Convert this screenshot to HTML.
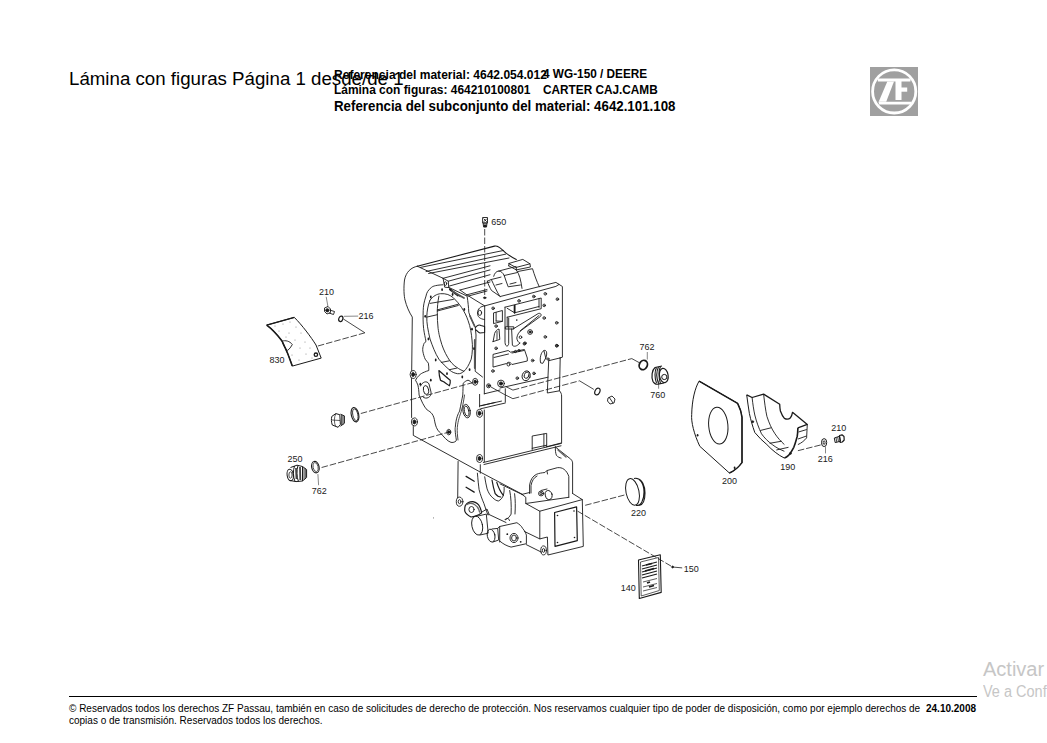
<!DOCTYPE html>
<html><head><meta charset="utf-8">
<style>
html,body{margin:0;padding:0;background:#fff;width:1047px;height:743px;overflow:hidden;position:relative;font-family:"Liberation Sans",sans-serif;color:#000}
.t{position:absolute;white-space:nowrap;line-height:1}
#title{left:69px;top:69.8px;font-size:18.7px}
.b{font-weight:bold;font-size:11.8px;transform:scaleY(1.09);transform-origin:0 0}
#l1a{left:334px;top:68.2px;font-size:12.05px}
#l1b{left:543px;top:68.2px}
#l2a{left:334px;top:84.2px;font-size:11.95px}
#l2b{left:543px;top:84.2px}
#l3{left:334px;top:99.2px;font-size:13.3px}
#foot1{left:69px;top:703.5px;font-size:10px}
#foot2{left:69px;top:716px;font-size:10px}
#date{left:926px;top:703.5px;font-size:10px;font-weight:bold}
#rule{position:absolute;left:69px;top:696px;width:908px;height:1px;background:#000}
#act1{left:983px;top:659.2px;font-size:20px;color:#c6c6c6}
#act2{left:983px;top:684px;font-size:14.5px;color:#c6c6c6;transform:scaleY(1.12);transform-origin:0 0}
svg{position:absolute;left:0;top:0}
</style></head><body>
<div class="t" id="title">Lámina con figuras Página 1 desde/de 1</div>
<div class="t b" id="l1a">Referencia del material: 4642.054.012</div>
<div class="t b" id="l1b">4 WG-150 / DEERE</div>
<div class="t b" id="l2a">Lámina con figuras: 464210100801</div>
<div class="t b" id="l2b">CARTER CAJ.CAMB</div>
<div class="t b" id="l3">Referencia del subconjunto del material: 4642.101.108</div>
<div id="rule"></div>
<div class="t" id="foot1">© Reservados todos los derechos ZF Passau, también en caso de solicitudes de derecho de protección. Nos reservamos cualquier tipo de poder de disposición, como por ejemplo derechos de</div>
<div class="t" id="foot2">copias o de transmisión. Reservados todos los derechos.</div>
<div class="t" id="date">24.10.2008</div>
<div class="t" id="act1">Activar</div>
<div class="t" id="act2">Ve a Conf</div>
<svg width="1047" height="743" viewBox="0 0 1047 743">
<!-- ZF logo -->
<rect x="870" y="67" width="48" height="49" fill="#a0a0a0"/>
<circle cx="894.2" cy="91.4" r="21.6" fill="none" stroke="#fff" stroke-width="2.8"/>
<polygon points="877.6,78.6 910.8,78.6 910.4,81.4 877.9,81.4" fill="#fff"/>
<polygon points="887.3,81.4 894,81.4 886.2,101.7 878.7,101.7" fill="#fff"/>
<polygon points="878.4,101.7 911.6,101.7 911,104.6 879.2,104.6" fill="#fff"/>
<rect x="895.5" y="81" width="6" height="19" fill="#fff"/>
<rect x="901" y="87.5" width="6.2" height="4.2" fill="#fff"/>

<g fill="none" stroke="#1a1a1a" stroke-width="0.9" stroke-linejoin="round" stroke-linecap="round">
<!-- ============ UPPER HOUSING ============ -->
<!-- left outer rounded back + vertical left edge + bottom diagonal -->
<path d="M417.3,266.2 C411,267.5 406,272 404.5,280 C403.5,288 404,296 405,300 C406.5,306 409,312 412.3,317.1 L411.7,370.5 M411.5,378.5 L411.6,417.5 M413.3,426.5 L413.3,435.4 L481.1,472.5 L522.6,494.5"/>
<!-- back top edge + slope -->
<path d="M417.3,266.2 L494.5,246.1 C496,245.8 497,246 497.8,246.5 C501,248 503,250.5 505.8,252.9 C509,255.5 513,257.8 516.3,259.4" stroke-width="1.1"/>
<!-- ribs on top -->
<path d="M420.5,267.4 L503.4,250.5 M426.1,271.5 L505.8,254.1 M428.6,273.5 L509,258"/>
<!-- left face edge to rib block -->
<path d="M417.3,266.2 L443.1,278.3"/>
<!-- rib block -->
<path d="M443.1,278.3 L490,265.8 M443.1,278.3 L448.3,281.2 L490,269.9 M448.3,281.2 L448.7,287.6 L444.7,287.2 L443.1,278.3 M449.5,286 L490,274.7"/>
<ellipse cx="445.5" cy="283.6" rx="1.2" ry="1.8"/>
<path d="M460,290 L490,282 M466.5,294.9 L487,289.5 M460,290 L468.1,295.7 M448.7,287.6 L460,296.5"/>
<path d="M450,289.5 L458,295.5" stroke-width="2"/>
<!-- top left flange lines -->
<!-- hump -->
<path d="M509.1,263.4 L522.8,259.4 L530,263.8 L516.3,267.4 Z M508.7,265.8 L516.3,269.9 L530.4,267 L530,263.8 M509.1,263.4 L508.7,265.8 M516.3,267.4 L516.3,269.9"/>
<path d="M517.9,271.5 L532.5,268.7 C534.5,275 536.5,281 539.3,286.8 M516.3,269.9 C519.5,274 521,281 522,288.4"/>
<path d="M493.7,276.3 C494.5,273 496.5,271.2 498.6,271.1 C501,271 503,273 504.2,275.5 C505.5,279 506.5,283 508.2,286.8 L520.4,285 M498.6,271.1 L516,266.5 M504.2,275.5 L517.5,272.5"/>
<path d="M487.3,281.2 L491.3,279.5 L501,277.1 M487.3,281.2 C488,284 490,288 491.5,290.5 L500.2,296.5 M491.3,279.5 C494,285 496.5,291 499.4,295.7 M496,285 L502,283.5 M510,284 L516,282.5"/>
<!-- plate top face -->
<path d="M468.6,296 L484.7,305.9 L555.9,286.4 L559.1,284.4 L555.9,282.4 L500.2,296.5 M468.6,296 L487,291"/>
<ellipse cx="484.7" cy="297.8" rx="1.2" ry="0.8" fill="#1a1a1a"/>
<!-- ear bolt -->
<path d="M484.7,306 C480.5,306 477.5,309 477.5,313 C477.5,317 480,319 484.5,319.5"/>
<ellipse cx="479.8" cy="312.8" rx="1.8" ry="2.6"/>
<!-- plate front face edges -->
<path d="M484.7,305.9 L484.3,393.8 M559.1,284.4 L562.4,286.5 L562.4,357.2 L559.8,358 M500,388 L548,377.2 M484.3,393.8 L500,390"/>
<!-- step block right -->
<path d="M548.7,360.7 L560.2,357.9 M548.7,360.7 L547.3,393 L559.5,390.8 L560.2,357.9 M559.5,390.8 C561,392.5 561.6,394 561.6,396 L561.6,442.9 L546,446.9"/>
<!-- flange web (hatched edge) -->
<path d="M448.6,287.3 L467.1,296.1 C468,302 468.5,307 468.8,312.3 C470.5,318 472.5,322 475.2,326.8 L476,335 L475.2,371.3 L482.5,377"/>
<path d="M452,291 L464,298 M470,316 L474.5,326 M474.8,340 L474.8,368" stroke-width="1.8" stroke="#555"/>
<!-- bore & flange -->
<path d="M442.9,284.8 C437,285 433,286 431.6,287.3 C428,290 426.5,293 426,296.1 C424,302 423.3,306 423.2,310.7 C423,317 423,323 423.6,328.4 C424.3,334 425.2,337 426,341.5 C424.5,342.5 423.8,343.5 423.6,344.7 C422.8,347 422.6,349 422.8,351.1 C423.5,355 424.3,357 425.2,359.2 C426.5,361 427.5,362 428.4,363.2 C428.8,366 428.9,368 428.8,370.5 C427,371 425.7,371.5 424.4,372.1 C422,373 420.5,374 419.1,375.4 C417.5,377 416.3,378.5 415.5,380.2 C416.5,382 417.3,383.5 417.9,385 C418.5,388 418.9,391 419.1,395 C421,400 424,407 427.3,410.1 C431,412 433.8,414.4 434.8,421.9 C436,428 438,431 440.2,432.7 C444,437 447,441 451,442.4 C454,443 456.5,441 456.4,440.2 C455,432 455,428 455.3,427.3 C456,418 458,414 459.6,411.1 C461,404 462,399 462.8,395 C463,390 463.1,386 463.1,383.4 C465,381.5 466.5,380.5 468,380.2 C469.5,380.5 471,381.8 472,383.4"/>
<path d="M430,300.2 C433,296 437,294 440.5,293.7 C443,293.5 445.5,293.8 447.8,294.5 C450,295.3 451.8,296.5 453.4,297.8 C456.5,300.5 459,304 461.5,307.4 C464.5,312 466.5,316 468,320.4 C470.5,327 471.5,334 472,340 C472.8,346 472.5,353 471.2,359.2 C469,365 466.5,369 463.9,371.3 C462,373 460,374 457.5,373.7 C454,373 452,372 450.2,370.5 C446,367 442,363 438.9,359.2 C435,353 432.5,346 430,339 C428,330 426.5,323 426.8,316.3 C427,311 428,305 430,300.2"/>
<path d="M438.9,296.1 C437.8,302 437.3,307 437.3,312.3 C437.3,318 437.5,323 438.1,328.4 C439,335 440,338 440.5,340 C442,346 444.5,352 447.8,357.6 C450.5,362 453,365 456.7,367.3 C459,369 461,370 463.9,371.3"/>
<path d="M437.3,309.9 L458.3,304.2 M437.3,311 L458.3,305.5 M430,303.4 L453.4,299.4 M426.8,317.1 L437.3,314.7 M441.3,362.4 L449.4,360.8 M449.4,369.7 L456.7,368.1"/>
<g fill="#1a1a1a" stroke="none">
<ellipse cx="442.1" cy="289.7" rx="0.9" ry="1.4"/><ellipse cx="430.8" cy="297" rx="0.9" ry="1.4"/><ellipse cx="452.6" cy="294.5" rx="0.9" ry="1.4"/>
<ellipse cx="425.2" cy="316.3" rx="0.9" ry="1.4"/><ellipse cx="464.3" cy="309.5" rx="0.9" ry="1.4"/><ellipse cx="472" cy="329.2" rx="0.9" ry="1.4"/>
<ellipse cx="428.4" cy="339" rx="0.9" ry="1.4"/><ellipse cx="435.7" cy="360" rx="0.9" ry="1.4"/><ellipse cx="462.3" cy="377" rx="0.9" ry="1.4"/>
<ellipse cx="469.6" cy="369.7" rx="0.9" ry="1.4"/><ellipse cx="474" cy="348.7" rx="0.9" ry="1.4"/><ellipse cx="447" cy="373.7" rx="0.9" ry="1.4"/>
<ellipse cx="430.8" cy="380.2" rx="0.9" ry="1.4"/><ellipse cx="420.3" cy="384.2" rx="0.9" ry="1.4"/>
</g>
<path d="M464.5,395 C463.5,402 462.5,407 461.2,411.5 C459.8,416 458,420 457.3,427.5 C457,431 457.5,436 458,440" stroke-width="0.8"/>
<path d="M475.5,327.5 C477,325 479.5,324.5 481,325.5 L484.6,326.5 L484.6,332.5 L480,333 C478.5,332.5 477.5,331 476,330" stroke-width="1.1"/>
<!-- irregular slot -->
<path d="M438.9,370.5 C442,373 446,377 450.2,380.2 C450.5,382 450,384 449.4,385.8 C447,384 445,383 443.7,381.8 C442,381 441,380.5 440.5,380.2 C439.5,377 439,374 438.9,370.5 Z" stroke-width="1.2"/>
<!-- lower left hole ring -->
<path d="M420.5,386 C422,382 427,380 429,384 L431,392 C432,397 426,400 423,397"/>
<ellipse cx="426" cy="390" rx="2.6" ry="4.5" transform="rotate(-10 426 390)"/>
<ellipse cx="466.6" cy="411.1" rx="3.6" ry="6.8" transform="rotate(-10 466.6 411.1)"/>
<ellipse cx="466.6" cy="411.1" rx="2.2" ry="5" transform="rotate(-10 466.6 411.1)"/>
<!-- bolts -->
<g>
<ellipse cx="413.1" cy="374.5" rx="3" ry="4"/><ellipse cx="413.1" cy="374.5" rx="1.4" ry="2" fill="#1a1a1a"/>
<ellipse cx="414.4" cy="421.9" rx="3" ry="4"/><ellipse cx="414.4" cy="421.9" rx="1.4" ry="2" fill="#1a1a1a"/>
<ellipse cx="479.5" cy="413.3" rx="3" ry="4"/><ellipse cx="479.5" cy="413.3" rx="1.4" ry="2" fill="#1a1a1a"/>
<ellipse cx="479.5" cy="458.5" rx="3" ry="4"/><ellipse cx="479.5" cy="458.5" rx="1.4" ry="2" fill="#1a1a1a"/>
<ellipse cx="448.8" cy="432.1" rx="2" ry="2.8"/><ellipse cx="448.8" cy="432.1" rx="1" ry="1.4" fill="#1a1a1a"/>
<ellipse cx="475.2" cy="381.8" rx="2.6" ry="3.5"/><ellipse cx="475.2" cy="381.8" rx="1.2" ry="1.7" fill="#1a1a1a"/>
<circle cx="501" cy="383.5" r="3.4"/><circle cx="501" cy="383.5" r="1.6" fill="#1a1a1a"/>
<circle cx="488.6" cy="385.8" r="2"/><circle cx="488.6" cy="385.8" r="0.8" fill="#1a1a1a"/>
</g>
<!-- box under plate -->
<path d="M479.6,394.4 L479.6,406.9 M505.3,388.7 L505.3,402.1 M479.6,405.9 L501.5,401.1 M480.6,408.8 L505.3,403 M481.1,405.8 L495,402.5 M484.3,410 L484.3,461.7"/>
<!-- lower front face of upper housing -->
<path d="M483.3,462.5 L561.4,443.4 M484,464.5 L561,445.8" />
<path d="M532.2,449.5 L532.2,436 L546.7,433.4 L546.7,446.2 M543.9,434 L543.9,446.8 M532.2,448.3 L546.7,445.2"/>
<!-- windows and details on valve plate -->
<path d="M505,307.2 L541.2,298 L541.2,308.7 L507.2,317.2 M507.2,308.3 L514.6,312.8 M514.6,305.4 L514.6,312.8 M514.6,312.8 L539,306.5 M539,298.8 L539,307.5" />
<path d="M514.6,305.6 L514.6,312.6" stroke-width="1.8"/>
<path d="M505,307.2 L505,342.3 C505.2,345 506,346.2 507.2,346 C508.5,345.8 508.8,344 508.7,342 L508.7,318 M507.2,317.2 L507.2,326.8"/>
<path d="M505.7,326.8 L513.8,326.8 L513.8,329 L505.7,329 Z M511.6,329 L512.4,345.3 C514,347 517,346.5 519.8,343.1"/>
<path d="M513.1,329 L538.3,313.5 C540.5,312.8 542,314.5 540.5,316.4 L522,329.8 C519,332 517.5,334 516.8,337.9 C517,340.5 518.3,342.3 519.8,343.1 M520,331 L539,315.5"/>
<circle cx="520.5" cy="337.2" r="1.3"/><circle cx="525" cy="343.1" r="1.2"/>
<circle cx="530.1" cy="332" r="2.4"/><circle cx="530.1" cy="332" r="1" fill="#1a1a1a"/>
<path d="M493.9,312.8 L502.4,310.5 L502.4,321.3 L493.9,323.5 Z M496.1,312.5 L496.1,321 M496.1,321 L502.4,321.3"/>
<path d="M493.1,341.6 L494.6,333.5 C495.5,331 497,329.5 499,329 L499.8,339.4 L493.1,341.6 Z"/>
<path d="M497,331.5 L497,339.5" stroke-width="1.4" stroke="#777"/>
<path d="M493.4,354.3 L508.2,350.5 L510.5,352.2 L524.4,349.5 L527.3,358 L527.3,361 L512,364.5 C510.5,362 508,361.5 506.5,363.5 L493.4,367 Z M494,357.5 L508.5,354 M512,353 L524,350.5"/>
<circle cx="508.5" cy="364.5" r="1.5"/>
<path d="M540.5,362.5 C539.5,358 541,352 544,350.5 C546.5,349.5 547.5,353 546,357.5 L543,363 Z M544,351 L546,359"/>
<ellipse cx="526.2" cy="375.8" rx="4" ry="5" transform="rotate(20 526.2 375.8)"/>
<ellipse cx="526.6" cy="375.2" rx="2.3" ry="3.3" transform="rotate(20 526.6 375.2)"/>
<g>
<circle cx="493.1" cy="308.3" r="1.3"/><circle cx="519" cy="300.9" r="1.3"/><circle cx="533.8" cy="296.5" r="1.3"/>
<circle cx="545.3" cy="293.8" r="1.3"/><circle cx="557.4" cy="299.2" r="1.3"/><circle cx="544.2" cy="305.4" r="1.3"/>
<circle cx="544.2" cy="318" r="1.3"/><circle cx="556.7" cy="322.8" r="1.3"/><circle cx="545.3" cy="336.9" r="1.3"/>
<circle cx="556.7" cy="345.7" r="1.3"/><circle cx="496.1" cy="326.1" r="1.3"/>
<circle cx="496.1" cy="348.3" r="1.3"/><circle cx="524.4" cy="343.8" r="1.3"/><circle cx="532.6" cy="360.5" r="1.3"/>
<circle cx="492.9" cy="371" r="1.3"/><circle cx="534" cy="373.4" r="1.3"/><circle cx="517.3" cy="378.2" r="1.3"/><circle cx="556.9" cy="345.7" r="1.3"/>
<circle cx="515.5" cy="351.5" r="1.1"/><circle cx="519" cy="350.5" r="1.1"/><circle cx="548" cy="359" r="1.1"/>
</g>
<g fill="#1a1a1a" stroke="none">
<circle cx="493.1" cy="308.3" r="0.6"/><circle cx="519" cy="300.9" r="0.6"/><circle cx="533.8" cy="296.5" r="0.6"/>
<circle cx="545.3" cy="293.8" r="0.6"/><circle cx="557.4" cy="299.2" r="0.6"/><circle cx="544.2" cy="305.4" r="0.6"/>
<circle cx="544.2" cy="318" r="0.6"/><circle cx="556.7" cy="322.8" r="0.6"/><circle cx="545.3" cy="336.9" r="0.6"/>
<circle cx="556.7" cy="345.7" r="0.6"/><circle cx="496.1" cy="326.1" r="0.6"/><circle cx="516.8" cy="320.1" r="0.8"/>
<circle cx="496.1" cy="348.3" r="0.6"/><circle cx="524.4" cy="343.8" r="0.6"/><circle cx="532.6" cy="360.5" r="0.6"/>
<circle cx="492.9" cy="371" r="0.6"/><circle cx="534" cy="373.4" r="0.6"/><circle cx="517.3" cy="378.2" r="0.6"/>
</g>
<!-- ============ LOWER HOUSING ============ -->
<path d="M458.1,461.5 L457.7,497.8"/>
<path d="M480.3,464.7 L480.3,473.2 M477.4,473.2 C478,480 478.5,485 479.1,489.7 C480.5,495 482,499 483.9,503.4 C485,507 486.5,511 487.9,515"/>
<path d="M466.1,476.4 L474.2,481.2 M466.1,487.3 L474.2,492.1" stroke-width="1.3"/>
<path d="M484.7,476.8 C485.5,481 486,485 487.1,488.9 C488.5,493 490.5,496 492.8,497.8 C494.5,499.5 496.5,500.8 498.4,501 C500.5,500 502.5,498 503.3,495.4 C504.2,492 504.3,489.5 504.1,487.3"/>
<path d="M492,480 C493,486 494,490 495.2,493.7 C497,496 499,497 500.8,497 M496.8,482.4 C498.5,488 500.5,492 503.3,495.4" stroke-width="1.2"/>
<path d="M509.7,490.5 C511,497 511.5,505 511.1,514.1 C509.5,517 507.5,519 505.4,519.8 M514.6,493.7 C515.5,500 515.4,507 515,514"/>
<!-- port cover -->
<path d="M529.6,493.5 L529.6,484.9 C530.5,479.5 533,476 536.3,474.4 C539,473.2 542,472.8 544.9,472.5 L546.8,470.6 L557.3,467.7 C562.5,467 566.5,470 568.8,476.3 L568.8,497.3"/>
<path d="M531,493 L531,485.5 C532,480.5 534,477.5 537,476 M547.5,474 L547,471"/>
<ellipse cx="541.1" cy="493.5" rx="2.6" ry="2.4"/><ellipse cx="541.1" cy="493.5" rx="1.2" ry="1.1"/>
<ellipse cx="548.7" cy="495" rx="3.4" ry="4.6" transform="rotate(-15 548.7 495)"/>
<path d="M541,490.5 L547,489"/>
<!-- front block -->
<path d="M500,483.9 L522,494.4 L525.8,497.3 L525.8,503.5 L539.8,511.2 L582.3,499.6 L572.6,493.5 M525.8,503.5 L568.8,497.3 M522,494.4 L529.6,492.5"/>
<path d="M555.4,446.7 C555.2,450 555.5,453 556.4,455.3 C557.8,457 559.5,457.8 561.1,458.1 M556,447.5 L570.7,459.1 C571.8,460 572.5,461.5 572.6,462.9 L572.6,493.5"/>
<path d="M558,450 L566,457" stroke-width="1.5" stroke="#666"/>
<path d="M539.8,511.2 L539.8,538.9 L547.4,537 L547.9,555 L583.3,546.4 L582.3,499.6"/>
<path d="M554.6,512.5 L576.6,506.8 L577.3,540.7 L555,546.4 Z" stroke-width="1.2"/>
<g fill="#1a1a1a" stroke="none"><circle cx="557.5" cy="515.5" r="0.8"/><circle cx="574" cy="511" r="0.8"/><circle cx="557.5" cy="542.5" r="0.8"/><circle cx="574.5" cy="537.5" r="0.8"/></g>
<path d="M488.2,514.1 L506,522.5 M524.5,531.5 L539.8,538.9 M526.4,544.7 L541.7,552.3"/>
<ellipse cx="543.6" cy="550.4" rx="2.8" ry="4.5"/><ellipse cx="543.6" cy="550.4" rx="1.2" ry="2"/>
<!-- bottom bosses & plugs -->
<ellipse cx="459.6" cy="501.7" rx="3.3" ry="4.6"/><ellipse cx="459.6" cy="501.7" rx="1.4" ry="2"/>
<path d="M465.3,505.5 C467.5,502.5 470,501.5 472.9,501.7 C476,502.5 478.5,504 479.6,506.5 C480.8,509 481.5,511 481.5,513.1 C478,515.5 474.5,517 471,517 C468,515.5 465.5,513.5 464.8,511.2 C464.6,509 464.8,507 465.3,505.5 Z" stroke-width="1.2"/>
<path d="M467,504.5 C469,503 472,503 474.5,504.5 C477,506 479,509 479.5,512" stroke-width="1.3" stroke="#666"/>
<ellipse cx="471.5" cy="509.5" rx="2.6" ry="3"/>
<ellipse cx="477.2" cy="525.6" rx="5.3" ry="9.6" transform="rotate(-12 477.2 525.6)"/>
<path d="M478,516 L486.3,514.1 L488.2,533.2 L480,535"/>
<ellipse cx="491.1" cy="535.6" rx="3.8" ry="6.5" transform="rotate(-12 491.1 535.6)"/>
<path d="M492,529 L497.7,528.4 L498.7,540 L493,542 M497.7,528.4 L499.7,526.5 L499.7,542"/>
<path d="M499.7,526.5 L516.9,522.7 C519.5,524.5 521.5,526 522.6,528.4 C524.5,530.5 525.5,532.5 526.4,535.1 L526.4,543.7 L511.1,547.1 C507,546 503,544 499.7,541"/>
<ellipse cx="514" cy="538" rx="4" ry="4.6"/><ellipse cx="514" cy="538" rx="2.4" ry="3"/>
<g fill="#1a1a1a" stroke="none"><circle cx="507.3" cy="534.2" r="0.9"/><circle cx="520.7" cy="541.8" r="0.9"/></g>
<path d="M482,512 L487,509 L489,514 M505,519.5 C506.5,517.5 509,518 509.5,520.5"/>
<!-- 650 bolt -->
<path d="M483,217.5 L487.5,217.5 L487.5,223 L483,223 Z M483.5,223 L487,223 L486.5,227 L484,227 Z"/>
<path d="M484,219 L486.5,221.5 M486.5,219 L484,221.5"/>
<rect x="483.6" y="224.5" width="3" height="2.6" fill="#1a1a1a" stroke="none"/>
</g>
<!-- dashed center lines -->
<g fill="none" stroke="#1a1a1a" stroke-width="0.8" stroke-dasharray="6.5,2">
<path d="M484.7,229 L484.7,297"/>
<path d="M317.9,346 L364.9,332.8"/>
<path d="M360.8,413.5 L472.8,382.6"/>
<path d="M321.6,467.5 L448.8,432.1"/>
<path d="M512.9,390.1 L631.8,358.6"/>
<path d="M512.9,398.7 L579.5,380.8"/>
<path d="M585.2,505.3 L625.3,494.8"/>
<path d="M577.5,511.1 L672.6,567"/>
<path d="M797.9,450.7 L822.1,444.6"/>
</g>
<g fill="none" stroke="#1a1a1a" stroke-width="0.8">
<path d="M364.9,332.8 L343.4,319"/>
<path d="M631.8,358.6 L639.7,362.9"/>
<path d="M579.5,380.8 L593.8,389.4"/>
<path d="M512.9,390.1 L505.7,386.5"/>
<path d="M512.9,398.7 L504.3,394.4 L491,387"/>
<path d="M672.6,567 L682.2,567.9"/>
</g>
<!-- leader lines -->
<g fill="none" stroke="#555" stroke-width="0.7">
<path d="M326.2,296.8 L328,306.9"/>
<path d="M344,316.3 L358.2,316.1"/>
<path d="M647.3,352 L647.3,359.6"/>
<path d="M658.6,380.6 L658.6,388.7"/>
<path d="M317.9,474.1 L318.6,485.2"/>
<path d="M825.5,446.6 L825.5,453.4"/>
</g>
<!-- ======= peripheral parts ======= -->
<g fill="none" stroke="#1a1a1a" stroke-width="0.9" stroke-linejoin="round">
<!-- 830 plate -->
<path d="M266.7,325.1 L294.3,317.4 C302,325 311,337 316,345 L321.2,358.1 L292.3,366.1 C289,356 285,347 282,341 C276,333 272,329 266.7,325.1 Z" stroke-width="1"/>
<path d="M266.7,325.1 C272,329 276,333 282,341 C285,347 289,356 292.3,366.1" stroke-width="1.6"/>
<path d="M266.7,325.1 L294.3,317.4" stroke-width="1.3"/>
<path d="M282.2,341.2 C285,340 290,341 292.3,344.6 C291,347 289.5,349 287.6,350.5 C285,348 283,345 282.2,341.2 Z"/>
<g fill="#777" stroke="none"><circle cx="275" cy="326" r="0.5"/><circle cx="283" cy="324" r="0.5"/><circle cx="290" cy="322" r="0.5"/><circle cx="279" cy="331" r="0.5"/><circle cx="296" cy="327" r="0.5"/><circle cx="289" cy="333" r="0.5"/><circle cx="301" cy="333" r="0.5"/><circle cx="295" cy="340" r="0.5"/><circle cx="305" cy="342" r="0.5"/><circle cx="300" cy="348" r="0.5"/><circle cx="292" cy="355" r="0.5"/><circle cx="306" cy="354" r="0.5"/><circle cx="299" cy="360" r="0.5"/><circle cx="312" cy="358" r="0.5"/><circle cx="286" cy="337" r="0.5"/><circle cx="310" cy="348" r="0.5"/></g>
<circle cx="315.9" cy="354.7" r="1.7" stroke-width="1.3"/>
<!-- 210 bolt -->
<path d="M324.5,308 L328,306.5 L330.5,309 L330.5,312.5 L327,314 L324.5,311.5 Z M329.5,310 L334.5,311.5 L333.5,314.5 L329,313"/>
<ellipse cx="327.3" cy="310.3" rx="1.6" ry="1.6" fill="#1a1a1a"/>
<!-- 216 washer -->
<ellipse cx="340.8" cy="318.8" rx="2" ry="2.8" transform="rotate(20 340.8 318.8)" stroke-width="1.2"/>
<!-- upper left plug and o-ring -->
<path d="M331.8,416.4 L335.8,413.6 L339.8,414.7 L340.4,424.5 L338.1,427.3 L332.3,425 C331.2,422 331.2,419 331.8,416.4 Z" stroke-width="1"/>
<path d="M335.8,413.6 C334,417 334,422.5 335.5,426.3 M332,420 L340,420.5" stroke-width="0.7"/>
<path d="M340.4,414.2 L344.4,415.9 L344.4,423.3 L340.4,426.2" stroke-width="1"/>
<path d="M341.7,414.8 L341.7,425.3 M343,415.3 L343,424.5" stroke-width="1" stroke="#333"/>
<ellipse cx="355" cy="414.7" rx="3.7" ry="7.3" transform="rotate(-12 355 414.7)" stroke-width="1.1"/>
<ellipse cx="355.3" cy="414.7" rx="2.5" ry="6" transform="rotate(-12 355.3 414.7)" stroke-width="0.8"/>
<!-- 250 plug -->
<path d="M290.5,467.5 L297,465.2 L302.5,466.5 L306.6,469.5 L306.6,477.5 L302.5,481 L296,481.6 L290,480.5" stroke-width="1"/>
<ellipse cx="290.2" cy="475" rx="3.1" ry="5.8" transform="rotate(-8 290.2 475)" stroke-width="1"/>
<ellipse cx="290.5" cy="475" rx="1.6" ry="3.2" stroke-width="0.8"/>
<path d="M294.5,466 C293,470 293,477 295,481.5 M298,465.5 C296.5,470 296.5,477 298.5,481.5 M302.5,466.5 L302.5,481" stroke-width="1"/>
<path d="M296,468 L296.5,479 M300,467 L300.3,480" stroke-width="1.8" stroke="#444"/>
<path d="M304,468 L304,479.5 M305.3,468.8 L305.3,478.5" stroke-width="0.8"/>
<ellipse cx="315.4" cy="467.1" rx="3.7" ry="5.8" transform="rotate(-12 315.4 467.1)" stroke-width="1.1"/>
<ellipse cx="315.6" cy="467.1" rx="2.5" ry="4.6" transform="rotate(-12 315.6 467.1)" stroke-width="0.7"/>
<!-- 762 upper o-ring & 760 plug -->
<ellipse cx="643.3" cy="365" rx="4" ry="4.8" transform="rotate(25 643.3 365)" stroke-width="1.8"/>
<path d="M655,367.5 C652,370 651,377 653,381.5 C654,383.5 656,384.5 658,384.2 L664,383 M655,367.5 L662,366" stroke-width="1.2"/>
<path d="M656.5,367.5 C654.5,371 654.5,378 656.5,383 M658.5,367 C656.5,371 656.5,378 658.5,383.5 M660.5,366.5 C658.5,370 658.5,378 660.5,383.5" stroke-width="1.1"/>
<ellipse cx="663.8" cy="375.5" rx="4.3" ry="7.2" transform="rotate(-10 663.8 375.5)" stroke-width="1.2"/>
<circle cx="664.3" cy="377" r="2.6" fill="#fff" stroke-width="1"/>
<!-- small o-ring & bolt -->
<ellipse cx="597.4" cy="391.5" rx="2.4" ry="3.5" transform="rotate(25 597.4 391.5)" stroke-width="1.2"/>
<path d="M608,398 L612,396 L615,399 L614,403 L610,404 L607.5,401 Z M609,397 L613,403"/>
<!-- 200 plate -->
<path d="M699.1,381.1 L737.6,403.3 C740,408 741.5,412 742,417.4 L742,462.6 C738,468 734,471 729.4,473 L699.8,446.3 C694,434 691,422 691.7,414.4 C692,400 695,388 699.1,381.1 Z" stroke-width="1"/>
<ellipse cx="718.3" cy="425.6" rx="9.6" ry="18.5" transform="rotate(-5 718.3 425.6)" stroke-width="1"/>
<path d="M699.1,381.1 L737.6,403.3 C740,408 741.5,412 742,417.4 L742,462.6 C738,468 734,471 729.4,473" stroke-width="1.5"/>
<g fill="#1a1a1a" stroke="none"><ellipse cx="697.6" cy="435.2" rx="0.9" ry="1.3"/><ellipse cx="734.6" cy="467.8" rx="0.9" ry="1.3"/></g>
<!-- 190 guard -->
<path d="M746.7,394.8 L752.1,397.5 L763.6,394.1 L779.7,404.2 C779.8,407 780,409 780.4,411 C781.5,414 782.8,416.5 784.4,418.4 C786.5,419.5 789,419.2 790.5,417.7 C791.7,416 792.2,414 792.5,412.3 L807.3,424.4 L797.9,427.8" stroke-width="1.3"/>
<path d="M746.7,394.8 C747.5,401 748.3,407 749.4,413.6 C750.8,420 752.5,426 754.8,432.5 C758.5,437 762.5,441 766.9,444.6 C772,450 778,455 784.4,458.1" stroke-width="1"/>
<path d="M797.9,427.8 C797.8,431 797.6,434 797.2,436.5 C796.2,440 795.2,444 793.8,447.3 C792.2,450.5 790.5,453 788.5,455.4 C787,456.8 785.8,457.5 784.4,458.1" stroke-width="1.6"/>
<path d="M807.3,424.4 L806.6,437.9 C804.5,440.5 801.5,443 797.9,444.6 M798.5,432 L806.8,429.5 M798,439 L806.5,436"/>
<path d="M752.1,397.5 C752.8,404 753.7,410 754.8,415 C756.5,422 758.8,428 761.5,433.8 C764.5,438 768,441.5 772.3,444.6 C776,447.5 780,449.5 784.4,451.3"/>
<path d="M763.6,394.1 C764.5,402 765.5,410 766.9,416.3 C769,423 771.7,429 775,433.8 C777.8,438 781,441.5 784.4,444.6"/>
<path d="M760.2,430.5 L771,427.8 M769.6,443.3 L781.7,441.2 M776.3,450 L788.5,447.3"/>
<circle cx="752.8" cy="421.7" r="0.9" fill="#1a1a1a"/><circle cx="790.5" cy="453.4" r="0.9" fill="#1a1a1a"/>
<!-- 216 washer right & 210 bolt right -->
<ellipse cx="824.1" cy="442.6" rx="2.6" ry="4" stroke-width="1"/>
<ellipse cx="824.1" cy="442.6" rx="1" ry="1.8"/>
<path d="M834.3,438 L839.5,436.3 L840.5,441.2 L835.2,442.6 Z" stroke-width="1"/>
<path d="M836,437.6 L836.8,442.2 M837.7,437 L838.5,441.7" stroke-width="0.9" stroke="#333"/>
<path d="M839.5,435.5 L842,434.8 L844,436.5 L844.2,440 L842.3,442 L840.2,442.3 Z" stroke-width="1.2"/>
<!-- 220 plug -->
<ellipse cx="632.5" cy="491.9" rx="6.5" ry="13.5" transform="rotate(-12 632.5 491.9)" stroke-width="1"/>
<path d="M634,478.5 C640,477 644,484 644,492 C644,500 641,506 636,505.5 M637,478.5 C642,479 645,486 645,493 C645,500 643,505 639,505.5" stroke-width="1.1"/>
<!-- 140 plate -->
<path d="M638.5,560 L660.3,554.8 L661.2,592.4 L639.3,598.5 Z" stroke-width="1.1"/>
<path d="M640.5,562 L658.5,557.5 L659.3,590.5 L641.2,596 Z" stroke-width="0.7"/>
<path d="M642,566 L657,562 M642,569 L657,565 M642,572 L657,568 M642,575 L657,571 M642,578 L657,574" stroke-width="1.2"/>
<path d="M643,582 L657,578.5 M643,587 L657,583.5 M643,591 L657,587.5" stroke-width="0.7"/>
<path d="M646,565 L652,563.5 M645,571 L654,568.5 M647,583 L650,582 M649,587 L654,585.5" stroke-width="1.8"/>
<circle cx="672.6" cy="567" r="0.9" fill="#1a1a1a"/>
</g>
<rect x="433" y="517.2" width="0.9" height="1.4" fill="#999"/>
<!-- labels -->
<g font-family="Liberation Sans, sans-serif" font-size="9" fill="#1a1a1a">
<text x="491.3" y="225.3">650</text>
<text x="319" y="294.9">210</text>
<text x="358.6" y="319.1">216</text>
<text x="269.5" y="362.5">830</text>
<text x="639.5" y="350">762</text>
<text x="650.3" y="397.9">760</text>
<text x="287.4" y="462.4">250</text>
<text x="311.8" y="493.5">762</text>
<text x="631" y="515.9">220</text>
<text x="683.7" y="572.4">150</text>
<text x="620.8" y="590.7">140</text>
<text x="722" y="484">200</text>
<text x="780.2" y="469.6">190</text>
<text x="817.8" y="461.5">216</text>
<text x="831.3" y="431.2">210</text>
</g>
</svg>
</body></html>
